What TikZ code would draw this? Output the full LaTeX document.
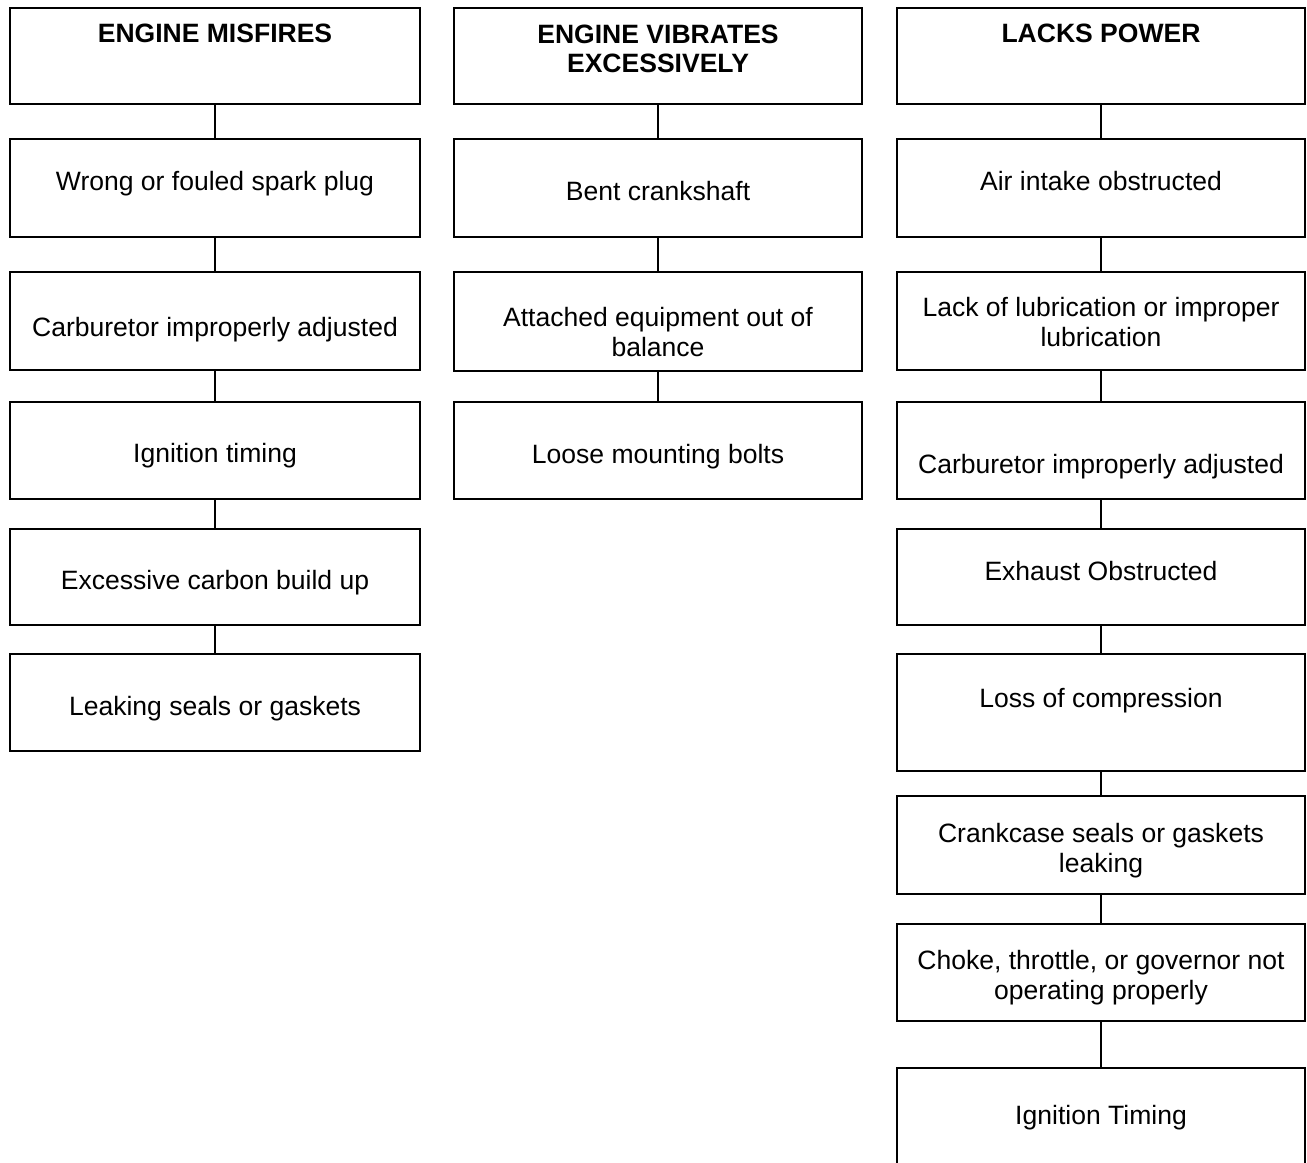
\documentclass[tikz,border=0pt]{standalone}
\usepackage{fontspec}
\setmainfont{Liberation Sans}
\usetikzlibrary{fit}

\begin{document}
\begin{tikzpicture}[
        x=0.02cm, y=-0.02cm,
        box/.style  = {rectangle, draw, line width=1.1pt, inner sep=0pt},
        txt/.style  = {anchor=base, align=center, inner sep=0pt,
                       font=\fontsize{15.1}{16.8}\selectfont},
        head/.style = {txt, font=\fontsize{15.1}{16.8}\selectfont\bfseries},
        conn/.style = {draw, line width=1.1pt}
    ]
        \useasboundingbox (0,0) rectangle (1307,1162);
        \clip (0,0) rectangle (1307,1162);

        % boxes: engine misfires
        \node [box, fit={(10,8)   (420,104)}] (mis0) {};
        \node [box, fit={(10,139) (420,237)}] (mis1) {};
        \node [box, fit={(10,272) (420,370)}] (mis2) {};
        \node [box, fit={(10,402) (420,499)}] (mis3) {};
        \node [box, fit={(10,529) (420,625)}] (mis4) {};
        \node [box, fit={(10,654) (420,751)}] (mis5) {};

        % boxes: engine vibrates
        \node [box, fit={(454,8)   (862,104)}] (vib0) {};
        \node [box, fit={(454,139) (862,237)}] (vib1) {};
        \node [box, fit={(454,272) (862,371)}] (vib2) {};
        \node [box, fit={(454,402) (862,499)}] (vib3) {};

        % boxes: lacks power
        \node [box, fit={(897,8)    (1305,104)}]  (pow0) {};
        \node [box, fit={(897,139)  (1305,237)}]  (pow1) {};
        \node [box, fit={(897,272)  (1305,370)}]  (pow2) {};
        \node [box, fit={(897,402)  (1305,499)}]  (pow3) {};
        \node [box, fit={(897,529)  (1305,625)}]  (pow4) {};
        \node [box, fit={(897,654)  (1305,771)}]  (pow5) {};
        \node [box, fit={(897,796)  (1305,894)}]  (pow6) {};
        \node [box, fit={(897,924)  (1305,1021)}] (pow7) {};
        \node [box, fit={(897,1068) (1305,1200)}] (pow8) {};

        % texts (base = last line)
        \node [head] (mis0t) at (215,43)  {ENGINE MISFIRES};
        \node [txt]  (mis1t) at (215,191) {Wrong or fouled spark plug};
        \node [txt]  (mis2t) at (215,336) {Carburetor improperly adjusted};
        \node [txt]  (mis3t) at (215,462) {Ignition timing};
        \node [txt]  (mis4t) at (215,589) {Excessive carbon build up};
        \node [txt]  (mis5t) at (215,715) {Leaking seals or gaskets};

        \node [head] (vib0t) at (658,73)  {ENGINE VIBRATES\\EXCESSIVELY};
        \node [txt]  (vib1t) at (658,200) {Bent crankshaft};
        \node [txt]  (vib2t) at (658,356) {Attached equipment out of\\balance};
        \node [txt]  (vib3t) at (658,463) {Loose mounting bolts};

        \node [head] (pow0t) at (1101,43)   {LACKS POWER};
        \node [txt]  (pow1t) at (1101,191)  {Air intake obstructed};
        \node [txt]  (pow2t) at (1101,346)  {Lack of lubrication or improper\\lubrication};
        \node [txt]  (pow3t) at (1101,473)  {Carburetor improperly adjusted};
        \node [txt]  (pow4t) at (1101,580)  {Exhaust Obstructed};
        \node [txt]  (pow5t) at (1101,707)  {Loss of compression};
        \node [txt]  (pow6t) at (1101,872)  {Crankcase seals or gaskets\\leaking};
        \node [txt]  (pow7t) at (1101,999)  {Choke, throttle, or governor not\\operating properly};
        \node [txt]  (pow8t) at (1101,1124) {Ignition Timing};

        % connectors
        \foreach \a/\b in {mis0/mis1, mis1/mis2, mis2/mis3, mis3/mis4, mis4/mis5,
                           vib0/vib1, vib1/vib2, vib2/vib3,
                           pow0/pow1, pow1/pow2, pow2/pow3, pow3/pow4,
                           pow4/pow5, pow5/pow6, pow6/pow7, pow7/pow8}
            \path [conn] (\a) -- (\b);
    \end{tikzpicture}
\end{document}
